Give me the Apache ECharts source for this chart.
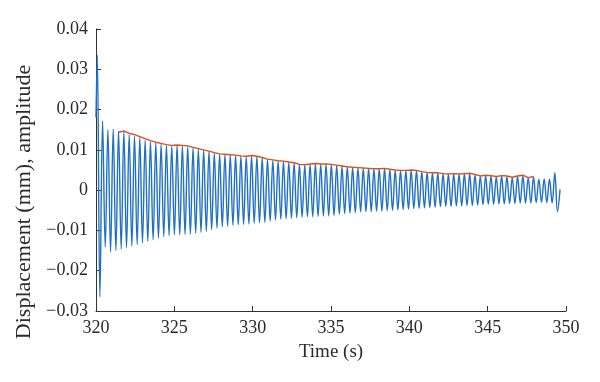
<!DOCTYPE html>
<html>
<head>
<meta charset="utf-8">
<script src="https://cdn.jsdelivr.net/npm/echarts@6/dist/echarts.min.js"></script>
<style>
html,body{margin:0;padding:0;background:#fff;}
#chart{width:600px;height:382px;}
</style>
</head>
<body>
<div id="chart"></div>
<script>
// Sampling of the oscillation extremes (s)
const firstPeakTime = 320.08;
const halfPeriod = 0.1698;
const startPoint = [320.0, 0.018];
const endPoint = [349.62, 0.0002];

// Peak (maxima) displacement values, one per cycle (mm)
const peakVals = [
  0.0335, 0.0172, 0.0150, 0.0151, 0.0147, 0.0145, 0.0138, 0.0134, 0.0130, 0.0124,
  0.0120, 0.0117, 0.0114, 0.0111, 0.0110, 0.0111, 0.0109, 0.0108, 0.0105, 0.0102,
  0.0099, 0.0096, 0.0092, 0.0089, 0.0088, 0.0087, 0.0086, 0.0084, 0.0083, 0.0085,
  0.0083, 0.0080, 0.0076, 0.0074, 0.0072, 0.0071, 0.0069, 0.0067, 0.0063, 0.0062,
  0.0064, 0.0065, 0.0064, 0.0064, 0.0063, 0.0061, 0.0059, 0.0057, 0.0056, 0.0055,
  0.0054, 0.0053, 0.0052, 0.0052, 0.0053, 0.0051, 0.0049, 0.0048, 0.0048, 0.0049,
  0.0048, 0.0045, 0.0043, 0.0042, 0.0042, 0.0040, 0.0039, 0.0040, 0.0039, 0.0040,
  0.0041, 0.0038, 0.0034, 0.0036, 0.0035, 0.0033, 0.0035, 0.0034, 0.0031, 0.0034,
  0.0036, 0.0030, 0.0033, 0.0027, 0.0028, 0.0027, 0.0043
];
// Trough (minima) displacement values, one per cycle (mm)
const troughVals = [
  -0.0265, -0.0141, -0.0153, -0.0150, -0.0146, -0.0143, -0.0139, -0.0135, -0.0131, -0.0127,
  -0.0123, -0.0119, -0.0115, -0.0113, -0.0111, -0.0111, -0.0110, -0.0109, -0.0107, -0.0105,
  -0.0102, -0.0098, -0.0094, -0.0091, -0.0089, -0.0087, -0.0086, -0.0085, -0.0084, -0.0082,
  -0.0081, -0.0080, -0.0077, -0.0074, -0.0072, -0.0071, -0.0070, -0.0068, -0.0067, -0.0066,
  -0.0066, -0.0065, -0.0064, -0.0064, -0.0063, -0.0060, -0.0058, -0.0057, -0.0056, -0.0054,
  -0.0053, -0.0053, -0.0052, -0.0052, -0.0051, -0.0050, -0.0049, -0.0048, -0.0047, -0.0046,
  -0.0045, -0.0044, -0.0043, -0.0042, -0.0041, -0.0040, -0.0040, -0.0039, -0.0039, -0.0038,
  -0.0038, -0.0037, -0.0036, -0.0035, -0.0035, -0.0034, -0.0034, -0.0033, -0.0033, -0.0032,
  -0.0032, -0.0032, -0.0031, -0.0030, -0.0031, -0.0032, -0.0053
];
// Amplitude envelope (red), starting at cycle index 4
const envStartCycle = 4;
const envVals = [
  0.0143, 0.0147, 0.0141, 0.0138, 0.0133, 0.0128, 0.0123, 0.0119, 0.0116, 0.0113,
  0.0111, 0.0112, 0.0111, 0.0110, 0.0106, 0.0103, 0.0100, 0.0097, 0.0093, 0.0090,
  0.0089, 0.0088, 0.0087, 0.0085, 0.0084, 0.0086, 0.0084, 0.0081, 0.0077, 0.0075,
  0.0073, 0.0072, 0.0070, 0.0068, 0.0064, 0.0063, 0.0065, 0.0066, 0.0065, 0.0065,
  0.0064, 0.0062, 0.0060, 0.0058, 0.0057, 0.0056, 0.0055, 0.0054, 0.0053, 0.0053,
  0.0054, 0.0052, 0.0050, 0.0049, 0.0049, 0.0050, 0.0049, 0.0046, 0.0044, 0.0043,
  0.0043, 0.0041, 0.0040, 0.0041, 0.0040, 0.0041, 0.0042, 0.0039, 0.0035, 0.0037,
  0.0036, 0.0034, 0.0036, 0.0035, 0.0032, 0.0035, 0.0037, 0.0031, 0.0034
];

const xTicks = {min: 320, max: 350, interval: 5};
const yTicks = {min: -0.03, max: 0.04, interval: 0.01};

// Build series data
const blueData = [startPoint];
for (let i = 0; i < peakVals.length; i++) {
  const tp = firstPeakTime + 2 * halfPeriod * i;
  blueData.push([tp, peakVals[i]]);
  blueData.push([tp + halfPeriod, troughVals[i]]);
}
blueData.push(endPoint);

const redData = envVals.map((v, k) => [firstPeakTime + 2 * halfPeriod * (envStartCycle + k), v]);

const font = '"Liberation Serif", "DejaVu Serif", serif';
const axisColor = '#333333';
const txtColor = '#2a2a2a';

const chart = echarts.init(document.getElementById('chart'), null, {renderer: 'canvas'});
chart.setOption({
  animation: false,
  backgroundColor: '#ffffff',
  grid: {left: 96, right: 34, top: 29, bottom: 71, containLabel: false},
  xAxis: {
    type: 'value',
    min: xTicks.min, max: xTicks.max, interval: xTicks.interval,
    name: 'Time (s)',
    nameLocation: 'middle',
    nameGap: 32,
    nameTextStyle: {fontFamily: font, fontSize: 19, color: txtColor},
    axisLine: {show: true, onZero: false, lineStyle: {color: axisColor, width: 1}},
    axisTick: {show: true, inside: true, length: 5, lineStyle: {color: axisColor}},
    axisLabel: {fontFamily: font, fontSize: 18, color: txtColor, margin: 8},
    splitLine: {show: false}
  },
  yAxis: {
    type: 'value',
    min: yTicks.min, max: yTicks.max, interval: yTicks.interval,
    name: 'Displacement (mm), amplitude',
    nameLocation: 'middle',
    nameGap: 53,
    nameRotate: 90,
    nameTextStyle: {fontFamily: font, fontSize: 22, color: txtColor, padding: [0, 64, 0, 0]},
    axisLine: {show: true, onZero: false, lineStyle: {color: axisColor, width: 1}},
    axisTick: {show: true, inside: true, length: 5, lineStyle: {color: axisColor}},
    axisLabel: {
      fontFamily: font, fontSize: 18, color: txtColor, margin: 8,
      formatter: v => {
        const r = Math.round(v * 100) / 100;
        if (r === 0) return '0';
        return (r < 0 ? '\u2212' : '') + Math.abs(r).toFixed(2);
      }
    },
    splitLine: {show: false}
  },
  series: [
    {
      type: 'line',
      data: blueData,
      showSymbol: false,
      smooth: 0.4,
      lineStyle: {color: '#1f6fc4', width: 1.4},
      z: 2
    },
    {
      type: 'line',
      data: redData,
      showSymbol: false,
      lineStyle: {color: '#d9531e', width: 1.4},
      z: 3
    }
  ]
});
</script>
</body>
</html>
